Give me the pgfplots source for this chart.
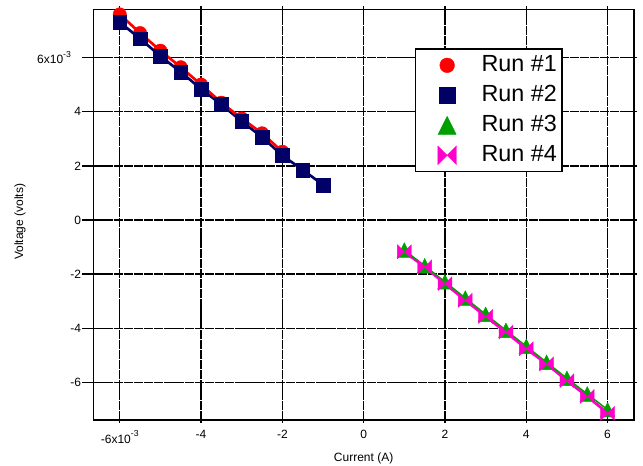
\documentclass[border=0pt]{standalone}
\usepackage{fontspec}
\setmainfont{Liberation Sans}
\usepackage{pgfplots}
\pgfplotsset{compat=1.18}
\definecolor{cRed}{RGB}{255,0,0}
\definecolor{cNavy}{RGB}{0,0,102}
\definecolor{cGreen}{RGB}{0,160,0}
\definecolor{cPink}{RGB}{255,0,204}
\pgfdeclareplotmark{bowtie}{%
  \pgfpathmoveto{\pgfqpoint{-\pgfplotmarksize}{\pgfplotmarksize}}%
  \pgfpathlineto{\pgfqpoint{-\pgfplotmarksize}{-\pgfplotmarksize}}%
  \pgfpathlineto{\pgfqpoint{\pgfplotmarksize}{\pgfplotmarksize}}%
  \pgfpathlineto{\pgfqpoint{\pgfplotmarksize}{-\pgfplotmarksize}}%
  \pgfpathclose
  \pgfusepathqfillstroke}
\pgfdeclareplotmark{tri}{%
  \pgfpathmoveto{\pgfqpoint{0pt}{\pgfplotmarksize}}%
  \pgfpathlineto{\pgfqpoint{-\pgfplotmarksize}{-\pgfplotmarksize}}%
  \pgfpathlineto{\pgfqpoint{\pgfplotmarksize}{-\pgfplotmarksize}}%
  \pgfpathclose
  \pgfusepathqfillstroke}
\newcommand{\sexp}[1]{\raisebox{0.55em}{\fontsize{6.5}{7}\selectfont #1}}
\begin{document}
\begin{tikzpicture}
\useasboundingbox (-70pt,-34.5pt) rectangle (412.25pt,315pt);
\begin{axis}[
  at={(0,0)}, anchor=south west,
  scale only axis, width=405.5pt, height=307.9pt,
  xmin=-6.65, xmax=6.65, ymin=-7.38, ymax=7.77,
  clip=false,
  axis line style={line width=1.1pt, black},
  xtick={-6,-4,-2,0,2,4,6},
  xticklabels={{-6x10\sexp{-3}},-4,-2,0,2,4,6},
  ytick={-6,-4,-2,0,2,4,6},
  yticklabels={-6,-4,-2,0,2,4,{6x10\sexp{-3}\kern7.5pt}},
  /pgf/number format/assume math mode=true,
  tick align=outside, major tick length=2.25pt,
  tick style={line width=1.1pt, black},
  tick label style={font=\fontsize{9}{10}\selectfont},
  xticklabel style={yshift=-2pt},
  yticklabel style={xshift=-3.5pt},
  grid=major,
  major grid style={line width=1.1pt, black, dash pattern=on 7pt off 0.6pt},
  xlabel={Current (A)},
  ylabel={Voltage (volts)},
  label style={font=\fontsize{9}{10}\selectfont},
  x label style={at={(axis description cs:0.5,0)}, anchor=center, yshift=-28.5pt},
  y label style={at={(axis description cs:-0.1356,0.483)}, anchor=center},
  legend style={at={(0.595,0.9055)}, anchor=north west, draw=black, line width=1.1pt,
    fill=white, font=\fontsize{17.5}{20}\selectfont, inner sep=1pt, row sep=0pt,
    nodes={inner sep=2.75pt, text height=13pt, text depth=4pt}},
  legend cell align=left,
  legend image code/.code={\path (-22pt,0pt) (22.5pt,0pt); \draw[#1] plot coordinates {(0pt,0pt)};},
]
\pgfplotsinvokeforeach{-6,-4,-2,0,2,4,6}{\draw[line width=1.1pt, black] (axis cs:-6.65,#1) -- ++(-8.25pt,0pt);}
% Run 1 markers
\addplot[only marks, mark=*, mark size=5pt, color=cRed, mark options={line width=0.3pt}, forget plot] coordinates {
(-6,7.59) (-5.5,6.90) (-5,6.25) (-4.5,5.64) (-4,5.00) (-3.5,4.33) (-3,3.75) (-2.5,3.20) (-2,2.52)};
% Run 2 markers
\addplot[only marks, mark=square*, mark size=5.2pt, color=cNavy, mark options={line width=0.3pt}, forget plot] coordinates {
(-6,7.30) (-5.5,6.69) (-5,6.05) (-4.5,5.46) (-4,4.84) (-3.5,4.26) (-3,3.64) (-2.5,3.06) (-2,2.38) (-1.5,1.85) (-1,1.30)};
\addplot[no marks, line width=2pt, color=cNavy, forget plot] coordinates {
(-6,7.30) (-5.5,6.69) (-5,6.05) (-4.5,5.46) (-4,4.84) (-3.5,4.26) (-3,3.64) (-2.5,3.06) (-2,2.38) (-1.5,1.85) (-1,1.30)};
\addplot[no marks, line width=2pt, color=cRed, forget plot] coordinates {
(-6,7.59) (-5.5,6.90) (-5,6.25) (-4.5,5.64) (-4,5.00) (-3.5,4.33) (-3,3.75) (-2.5,3.20) (-2,2.52)};
% Run 3 markers
\addplot[only marks, mark=tri, mark size=5.5pt, color=cGreen, mark options={line width=0.3pt}, forget plot] coordinates {
(1,-1.11) (1.5,-1.69) (2,-2.28) (2.5,-2.88) (3,-3.48) (3.5,-4.07) (4,-4.66) (4.5,-5.25) (5,-5.84) (5.5,-6.42) (6,-7.00)};
% Run 4 markers
\addplot[only marks, mark=bowtie, mark size=5.2pt, color=cPink, mark options={line width=0.3pt}, forget plot] coordinates {
(1,-1.17) (1.5,-1.73) (2,-2.35) (2.5,-2.96) (3,-3.56) (3.5,-4.14) (4,-4.75) (4.5,-5.31) (5,-5.93) (5.5,-6.51) (6,-7.13)};
\addplot[no marks, line width=2pt, color=cPink, forget plot] coordinates {
(1,-1.17) (1.5,-1.73) (2,-2.35) (2.5,-2.96) (3,-3.56) (3.5,-4.14) (4,-4.75) (4.5,-5.31) (5,-5.93) (5.5,-6.51) (6,-7.13)};
\addplot[no marks, line width=1.1pt, color=cGreen, forget plot] coordinates {
(1,-1.11) (1.5,-1.69) (2,-2.28) (2.5,-2.88) (3,-3.48) (3.5,-4.07) (4,-4.66) (4.5,-5.25) (5,-5.84) (5.5,-6.42) (6,-7.00)};
% legend
\addlegendimage{only marks, mark=*, mark size=5.5pt, color=cRed, mark options={line width=0.3pt}}
\addlegendentry{Run \#1}
\addlegendimage{only marks, mark=square*, mark size=5.9pt, color=cNavy, mark options={line width=0.3pt}}
\addlegendentry{Run \#2}
\addlegendimage{only marks, mark=tri, mark size=6.75pt, color=cGreen, mark options={line width=0.3pt}}
\addlegendentry{Run \#3}
\addlegendimage{only marks, mark=bowtie, mark size=7pt, color=cPink, mark options={line width=0.3pt}}
\addlegendentry{Run \#4}
\end{axis}
\end{tikzpicture}
\end{document}
